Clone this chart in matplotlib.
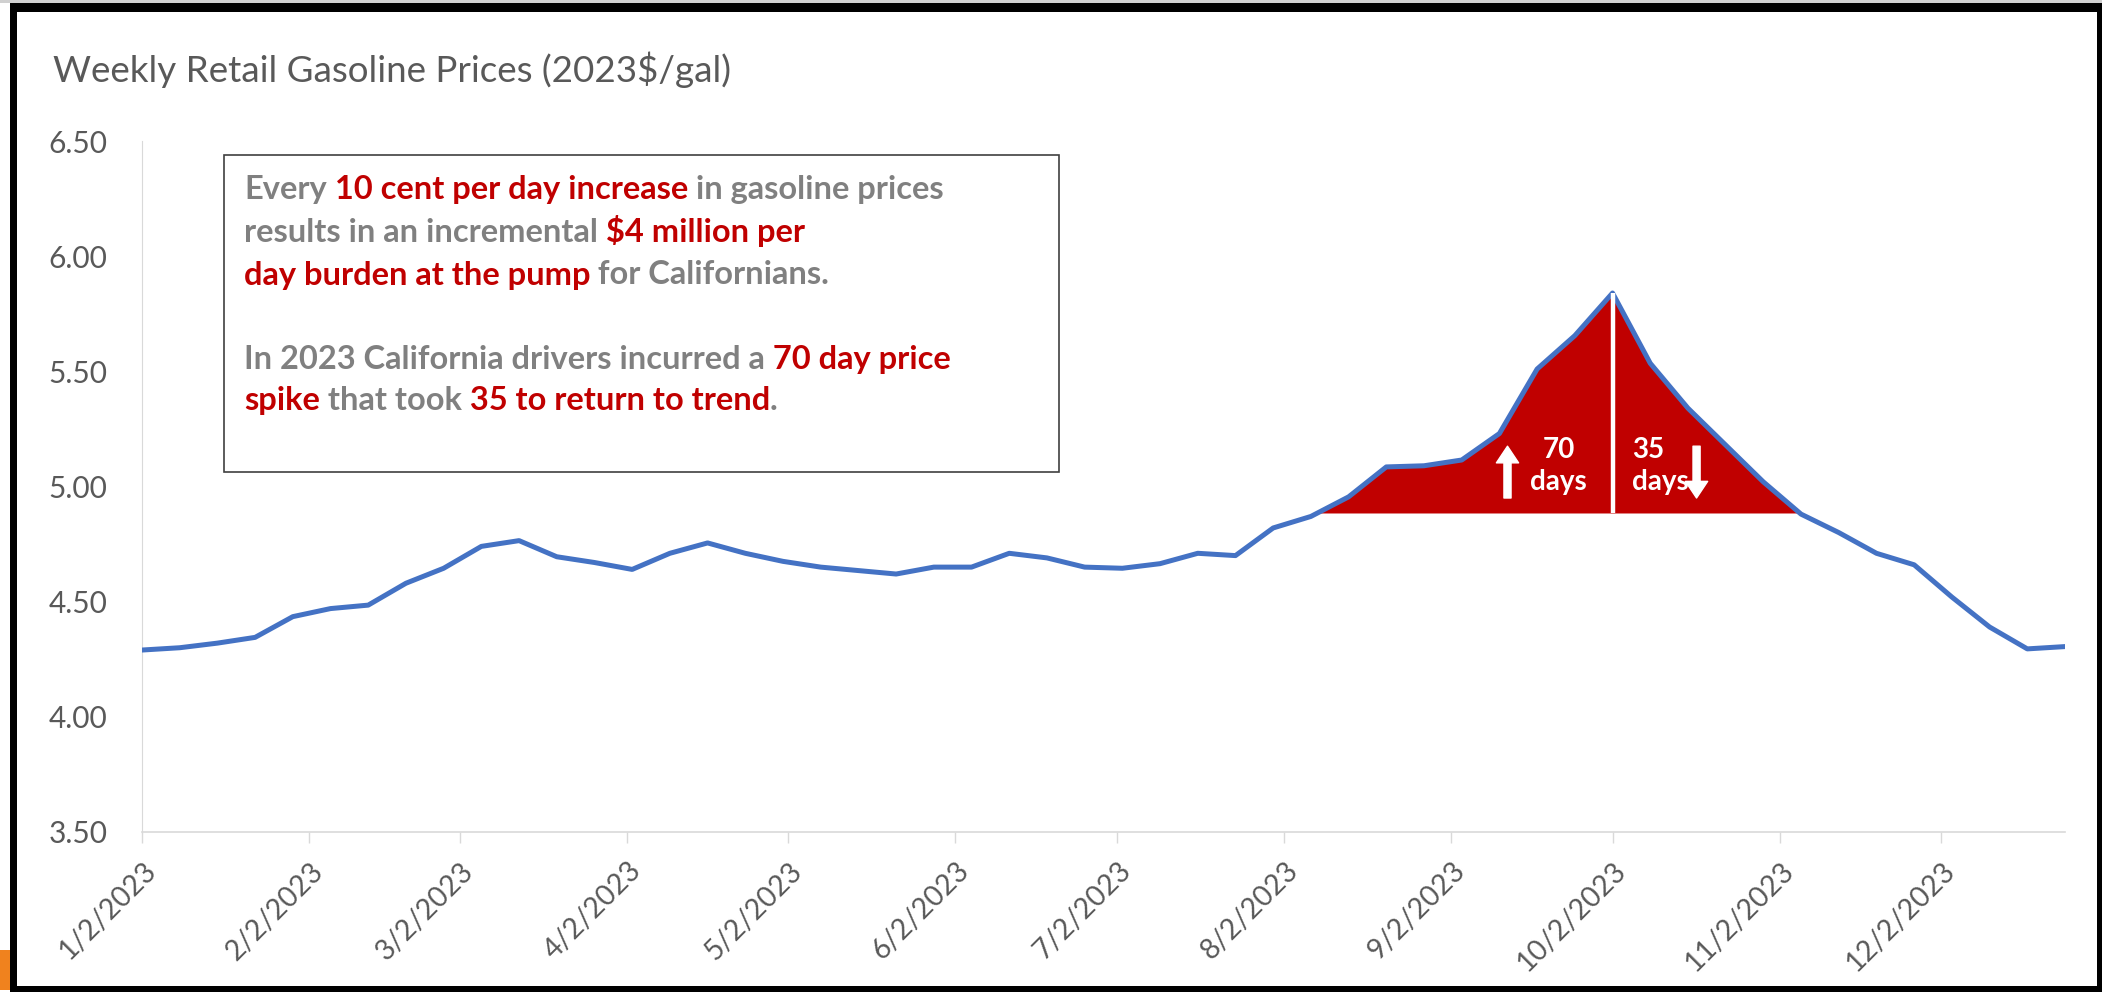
import numpy as np
import pandas as pd
import matplotlib
matplotlib.use("Agg")
import matplotlib.pyplot as plt
import matplotlib.transforms as mtransforms
from matplotlib.patches import Rectangle

# weekly CA retail gasoline price, 2023 $/gal (Mondays, 1/2/2023 .. 12/25/2023)
weeks = pd.date_range("2023-01-02", periods=52, freq="7D")
prices = [4.29, 4.30, 4.32, 4.345, 4.435, 4.47, 4.485, 4.58, 4.645, 4.74,
          4.765, 4.695, 4.67, 4.64, 4.71, 4.755, 4.71, 4.675, 4.65, 4.635,
          4.62, 4.65, 4.65, 4.71, 4.69, 4.65, 4.645, 4.665, 4.71, 4.70,
          4.82, 4.87, 4.955, 5.085, 5.09, 5.115, 5.23, 5.51, 5.655, 5.84,
          5.535, 5.34, 5.18, 5.02, 4.88, 4.80, 4.71, 4.66, 4.52, 4.39,
          4.295, 4.305]
trend_level = 4.885
peak_idx = 39

tick_dates = pd.to_datetime(["2023-%02d-02" % m for m in range(1, 13)])
tick_labels = ["%d/2/2023" % m for m in range(1, 13)]
y_ticks = [3.50, 4.00, 4.50, 5.00, 5.50, 6.00, 6.50]

TITLE = "Weekly Retail Gasoline Prices (2023$/gal)"
box_lines = [
    [("Every", "gray"), (" 10 cent per day increase", "red"), (" in gasoline prices", "gray")],
    [("results in an incremental", "gray"), (" $4 million per", "red")],
    [("day burden at the pump", "red"), (" for Californians.", "gray")],
    [("In 2023 California drivers incurred a", "gray"), (" 70 day price", "red")],
    [("spike", "red"), (" that took", "gray"), (" 35 to return to trend", "red"), (".", "gray")],
]

BLUE = "#4472C4"
RED = "#C00000"
GREY_TXT = "#808080"
AXIS_TXT = "#595959"
LIGHT = "#d9d9d9"
FONT = "Lato"

W, H = 2102, 992
fig = plt.figure(figsize=(W / 100, H / 100), dpi=100)
fig.patch.set_facecolor("white")


def px_box(x0, y0, x1, y1):
    # pixel box (origin top-left) -> figure fraction rect
    return (x0 / W, 1 - y1 / H, (x1 - x0) / W, (y1 - y0) / H)


ax = fig.add_axes(px_box(142, 141, 2065, 832))
ax.set_facecolor("white")

x = np.array(weeks.to_pydatetime())
y = np.array(prices)
ax.fill_between(x, y, trend_level, where=y >= trend_level, interpolate=True,
                color=RED, lw=0, zorder=2)
ax.plot(x, y, color=BLUE, lw=3.6, solid_joinstyle="round", zorder=3)
ax.vlines(x[peak_idx], trend_level, y[peak_idx], color="white", lw=3.2, zorder=4)

ax.set_xlim(x[0], x[-1])
ax.set_ylim(3.5, 6.5)
ax.set_yticks(y_ticks)
ax.set_yticklabels(["%.2f" % v for v in y_ticks])
ax.set_xticks(tick_dates)
ax.set_xticklabels(tick_labels)

for s in ("top", "right"):
    ax.spines[s].set_visible(False)
ax.spines["left"].set_color(LIGHT)
ax.spines["left"].set_linewidth(0.8)
ax.spines["bottom"].set_color(LIGHT)
ax.spines["bottom"].set_linewidth(1.2)
ax.tick_params(axis="y", length=0, pad=25, labelsize=21.5, labelcolor=AXIS_TXT)
ax.tick_params(axis="x", length=8, width=1, color=LIGHT, pad=17,
               labelsize=20.5, labelcolor=AXIS_TXT)
for lab in ax.get_yticklabels():
    lab.set_fontfamily(FONT)
shift = mtransforms.ScaledTranslation(0.10, 0, fig.dpi_scale_trans)
for lab in ax.get_xticklabels():
    lab.set_fontfamily(FONT)
    lab.set_rotation(45)
    lab.set_ha("right")
    lab.set_va("center")
    lab.set_rotation_mode("anchor")
    lab.set_transform(lab.get_transform() + shift)

# spike annotations
pk = x[peak_idx]
day = pd.Timedelta(days=1)
arrow_kw = dict(arrowstyle="simple,head_length=0.75,head_width=1.0,tail_width=0.32",
                fc="white", ec="white", mutation_scale=16, shrinkA=0, shrinkB=0)
ax.annotate("", xy=(pk - 19.5 * day, 5.175), xytext=(pk - 19.5 * day, 4.95),
            arrowprops=arrow_kw, zorder=5)
ax.annotate("", xy=(pk + 15.6 * day, 4.95), xytext=(pk + 15.6 * day, 5.175),
            arrowprops=arrow_kw, zorder=5)
lbl = dict(color="white", fontsize=20, fontweight="bold", fontfamily=FONT,
           va="center", zorder=6)
ax.text(pk - 10 * day, 5.158, "70", ha="center", **lbl)
ax.text(pk - 10 * day, 5.02, "days", ha="center", **lbl)
ax.text(pk + 3.6 * day, 5.158, "35", ha="left", **lbl)
ax.text(pk + 3.6 * day, 5.02, "days", ha="left", **lbl)

# callout box
ax.add_patch(Rectangle((0.0429, 0.521), 0.434, 0.4587, transform=ax.transAxes,
                       fill=False, ec="#404040", lw=1.2, zorder=6))
colors = {"gray": GREY_TXT, "red": RED}
line_y = [189, 232, 275, 359, 400]
for runs, ly in zip(box_lines, line_y):
    prev = None
    for s, c in runs:
        if prev is None:
            prev = ax.text(0.053, (832 - ly) / 691, s, transform=ax.transAxes,
                           color=colors[c], fontsize=23.5, fontweight="bold",
                           fontfamily=FONT, ha="left", va="center",
                           parse_math=False, zorder=7)
        else:
            prev = ax.annotate(s, xy=(1, 0), xycoords=prev, ha="left", va="bottom",
                               color=colors[c], fontsize=23.5, fontweight="bold",
                               fontfamily=FONT, parse_math=False, zorder=7)

fig.text(53 / W, 1 - 70 / H, TITLE, fontsize=26.5, color=AXIS_TXT,
         fontfamily=FONT, ha="left", va="center", parse_math=False)

# screenshot frame
for (x0, y0, x1, y1, c) in [(0, 0, W, 3, "#d0d0d0"), (10, 3, W, 12, "black"),
                            (10, 3, 17, H, "black"), (2097, 3, W, H, "black"),
                            (10, 986, W, H, "black"), (0, 950, 10, 990, "#F0821E")]:
    fig.add_artist(Rectangle(px_box(x0, y0, x1, y1)[:2], *px_box(x0, y0, x1, y1)[2:],
                             transform=fig.transFigure, color=c, lw=0, zorder=10))

fig.savefig("out.png", dpi=100)
